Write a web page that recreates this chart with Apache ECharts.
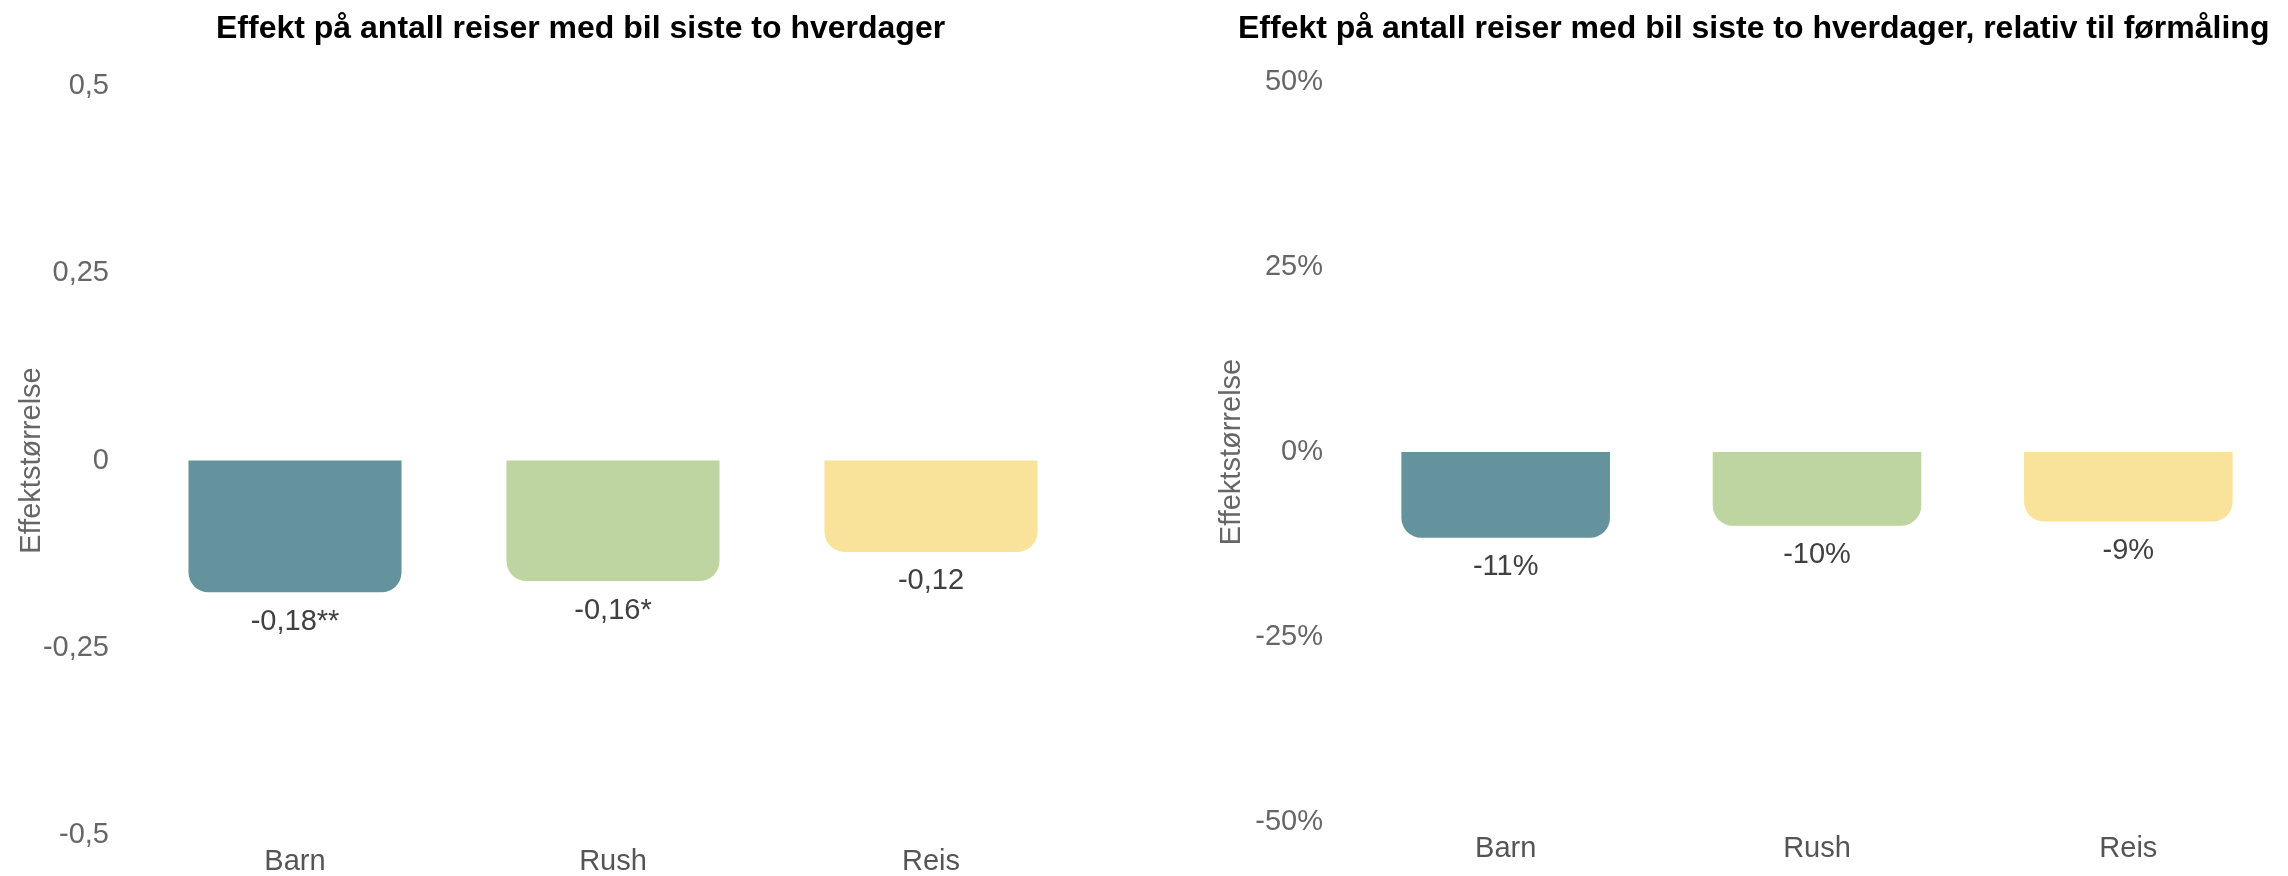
<!DOCTYPE html>
<html>
<head>
<meta charset="utf-8">
<script src="https://cdn.jsdelivr.net/npm/echarts@6/dist/echarts.min.js"></script>
<style>
html,body{margin:0;padding:0;background:#fff;}
#chart{width:2288px;height:876px;}
</style>
</head>
<body>
<div id="chart"></div>
<script>
// ---- Data ----
const categories = ["Barn", "Rush", "Reis"];
const barColors = ["#64939D", "#BED5A1", "#F9E39A"];

const titleLeft = "Effekt på antall reiser med bil siste to hverdager";
const titleRight = "Effekt på antall reiser med bil siste to hverdager, relativ til førmåling";
const yAxisName = "Effektstørrelse";

const effectValues = [-0.176, -0.161, -0.122];
const effectLabels = ["-0,18**", "-0,16*", "-0,12"];

const relativeValues = [-0.116, -0.0996, -0.094];
const relativeLabels = ["-11%", "-10%", "-9%"];

const leftTicks = [-0.5, -0.25, 0, 0.25, 0.5];
const rightTicks = [-0.5, -0.25, 0, 0.25, 0.5];

// ---- Chart ----
const FONT = "'Liberation Sans', Arial, sans-serif";
const chart = echarts.init(document.getElementById('chart'), null, {renderer: 'canvas'});

function barData(vals) {
  return vals.map((v, i) => ({
    value: v,
    itemStyle: {color: barColors[i], borderRadius: [0, 0, 20, 20]}
  }));
}

function yAxisCommon(gridIndex, ticks, formatter, nameGap) {
  return {
    type: 'value', gridIndex: gridIndex,
    min: ticks[0], max: ticks[ticks.length - 1], interval: ticks[1] - ticks[0],
    name: yAxisName, nameLocation: 'middle', nameGap: nameGap, nameMoveOverlap: false,
    nameTextStyle: {fontFamily: FONT, fontSize: 29, color: '#666'},
    axisLine: {show: false}, axisTick: {show: false}, splitLine: {show: false},
    axisLabel: {fontFamily: FONT, fontSize: 29, color: '#666', margin: 27, formatter: formatter}
  };
}

function xAxisCommon(gridIndex) {
  return {
    type: 'category', gridIndex: gridIndex, data: categories,
    axisLine: {show: false}, axisTick: {show: false}, splitLine: {show: false},
    axisLabel: {fontFamily: FONT, fontSize: 29, color: '#555', margin: 12, interval: 0}
  };
}

const option = {
  backgroundColor: '#fff',
  animation: false,
  title: [
    {text: titleLeft, left: 211, top: 8,
     textStyle: {fontFamily: FONT, fontSize: 32, fontWeight: 'bold', color: '#000'}},
    {text: titleRight, left: 1233, top: 8,
     textStyle: {fontFamily: FONT, fontSize: 32, fontWeight: 'bold', color: '#000'}}
  ],
  grid: [
    {left: 136, top: 86, width: 954, height: 750},
    {left: 1350, top: 82, width: 934, height: 740}
  ],
  xAxis: [xAxisCommon(0), xAxisCommon(1)],
  yAxis: [
    yAxisCommon(0, leftTicks, v => String(v).replace('.', ','), 90),
    yAxisCommon(1, rightTicks, v => Math.round(v * 100) + '%', 104)
  ],
  series: [
    {
      type: 'bar', xAxisIndex: 0, yAxisIndex: 0,
      data: barData(effectValues), barCategoryGap: '33%',
      label: {show: true, position: 'bottom', distance: 15,
        fontFamily: FONT, fontSize: 29, color: '#404040',
        formatter: p => effectLabels[p.dataIndex]}
    },
    {
      type: 'bar', xAxisIndex: 1, yAxisIndex: 1,
      data: barData(relativeValues), barCategoryGap: '33%',
      label: {show: true, position: 'bottom', distance: 15,
        fontFamily: FONT, fontSize: 29, color: '#404040',
        formatter: p => relativeLabels[p.dataIndex]}
    }
  ]
};
chart.setOption(option);
</script>
</body>
</html>
